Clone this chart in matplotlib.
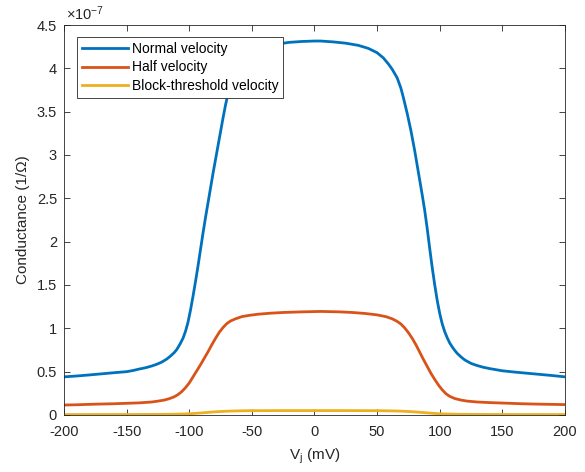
import matplotlib
matplotlib.use("Agg")
import matplotlib.pyplot as plt
from matplotlib.ticker import FuncFormatter, MultipleLocator

plt.rcParams['font.family'] = ['Liberation Sans', 'DejaVu Sans']
plt.rcParams['mathtext.fontset'] = 'custom'
plt.rcParams['mathtext.rm'] = 'Liberation Sans'
plt.rcParams['mathtext.it'] = 'Liberation Sans:italic'
plt.rcParams['axes.unicode_minus'] = False

# Values in units of 1e-7 (1/Ohm)
v_normal = [-200, -190, -180, -170, -160, -150, -145, -140, -135, -130, -126, -122, -118,
            -115, -112, -110, -107.5, -105, -103, -101, -99, -97, -95, -93, -91, -89, -87,
            -85, -83, -81, -79, -77, -75, -73, -71, -69, -67, -65, -62, -59, -55, -50, -45,
            -38, -30, -20, -10, 0, 5, 15, 25, 35, 43, 50, 55, 59, 62, 66, 69, 71, 74, 77,
            80, 82, 84, 86, 88, 90, 92, 94, 96, 98, 100, 102, 104, 106, 108, 110, 112, 114,
            117, 120, 125, 130, 135, 140, 150, 160, 175, 190, 200]
g_normal = [0.44, 0.45, 0.462, 0.475, 0.488, 0.50, 0.513, 0.53, 0.545, 0.565, 0.585, 0.61,
            0.645, 0.68, 0.72, 0.755, 0.815, 0.885, 0.965, 1.07, 1.21, 1.37, 1.54, 1.72, 1.91,
            2.10, 2.28, 2.45, 2.62, 2.79, 2.95, 3.11, 3.27, 3.43, 3.58, 3.71, 3.82, 3.90,
            4.00, 4.07, 4.13, 4.18, 4.22, 4.255, 4.28, 4.30, 4.31, 4.315, 4.315, 4.305, 4.29,
            4.265, 4.23, 4.18, 4.12, 4.05, 3.99, 3.89, 3.77, 3.66, 3.48, 3.28, 3.05, 2.88,
            2.71, 2.54, 2.36, 2.15, 1.92, 1.70, 1.50, 1.32, 1.17, 1.05, 0.96, 0.89, 0.83,
            0.785, 0.745, 0.71, 0.67, 0.635, 0.595, 0.57, 0.55, 0.535, 0.51, 0.495, 0.475,
            0.455, 0.44]

v_half = [-200, -190, -175, -160, -150, -140, -130, -125, -120, -116, -112, -109, -106, -103,
          -100, -97, -94, -91, -88, -85, -82, -79, -76, -73, -70, -67, -63, -58, -52, -45,
          -35, -25, -10, 5, 20, 30, 40, 50, 57, 62, 66, 69, 72, 75, 78, 81, 84, 87, 90, 93,
          96, 99, 102, 105, 108, 112, 117, 122, 130, 140, 150, 165, 180, 200]
g_half = [0.115, 0.118, 0.125, 0.13, 0.135, 0.14, 0.15, 0.16, 0.172, 0.188, 0.21, 0.235,
          0.27, 0.315, 0.37, 0.44, 0.51, 0.58, 0.655, 0.73, 0.81, 0.885, 0.955, 1.01, 1.055,
          1.085, 1.11, 1.135, 1.15, 1.163, 1.175, 1.183, 1.19, 1.195, 1.19, 1.183, 1.172,
          1.155, 1.135, 1.11, 1.08, 1.05, 1.005, 0.95, 0.885, 0.81, 0.725, 0.64, 0.56, 0.48,
          0.41, 0.345, 0.29, 0.245, 0.215, 0.19, 0.172, 0.16, 0.15, 0.143, 0.138, 0.13,
          0.125, 0.12]

v_block = [-200, -150, -125, -112, -104, -98, -92, -86, -80, -74, -68, -60, -50, -25, 0, 25,
           50, 60, 68, 74, 80, 86, 92, 98, 104, 112, 125, 150, 200]
g_block = [0.005, 0.006, 0.007, 0.009, 0.012, 0.016, 0.022, 0.029, 0.036, 0.041, 0.045,
           0.048, 0.05, 0.051, 0.051, 0.051, 0.05, 0.048, 0.045, 0.041, 0.036, 0.029, 0.022,
           0.016, 0.012, 0.009, 0.007, 0.006, 0.005]

labels = ['Normal velocity', 'Half velocity', 'Block-threshold velocity']
colors = ['#0072BD', '#D95319', '#EDB120']
x_ticks = [-200, -150, -100, -50, 0, 50, 100, 150, 200]

fig = plt.figure(figsize=(5.85, 4.72), dpi=100)
ax = fig.add_axes([64/585, 57/472, 501/585, 390/472])

for v, g, lab, c in zip([v_normal, v_half, v_block], [g_normal, g_half, g_block], labels, colors):
    ax.plot(v, g, color=c, lw=2, label=lab, solid_joinstyle='round')

ax.set_xlim(-200, 200)
ax.set_ylim(0, 4.5)
ax.set_xticks(x_ticks)
ax.yaxis.set_major_locator(MultipleLocator(0.5))
ax.yaxis.set_major_formatter(FuncFormatter(lambda y, p: '%g' % y))
ax.xaxis.set_major_formatter(FuncFormatter(lambda x, p: '%g' % x))

dark = '#262626'
for s in ax.spines.values():
    s.set_color(dark)
    s.set_linewidth(0.6)
ax.tick_params(direction='in', top=True, right=True, length=4, width=0.6,
               colors=dark, labelsize=10.5)
ax.tick_params(axis='x', pad=7.5)
ax.tick_params(axis='y', pad=5)

ax.set_xlabel(r'V$_{\mathrm{j}}$ (mV)', fontsize=11, color=dark, labelpad=5)
ax.set_ylabel('Conductance (1/Ω)', fontsize=11, color=dark, labelpad=5)
ax.text(0.004, 1.006, r'$\times$10$^{-7}$', transform=ax.transAxes, ha='left', va='bottom',
        fontsize=10.5, color=dark)

leg = ax.legend(loc='upper left', bbox_to_anchor=(0.026, 0.97), fontsize=10,
                frameon=True, fancybox=False, framealpha=1, edgecolor=dark,
                handlelength=3.3, handletextpad=0.3, borderpad=0.35, labelspacing=0.35,
                borderaxespad=0)
leg.get_frame().set_linewidth(0.6)
for t in leg.get_texts():
    t.set_color('black')

fig.savefig('out.png', dpi=100)
